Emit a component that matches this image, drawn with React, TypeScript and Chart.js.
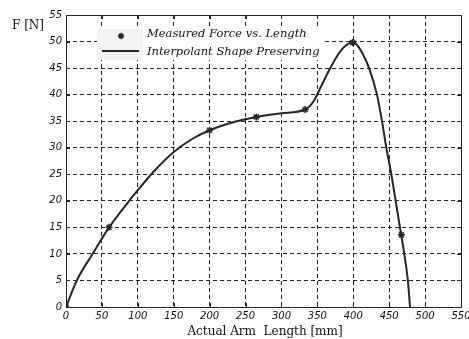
import React, { useEffect, useRef } from "react";
import { Chart, registerables } from "chart.js";

Chart.register(...registerables);

// Interpolated curve (shape preserving) samples
const curveX = [0, 15, 37, 60, 88, 100, 120, 150, 175, 200, 230, 265, 300, 333, 345, 355, 368, 380, 390, 399, 405, 412, 422, 433, 440, 446, 453, 459, 465, 471, 476, 479];
const curveY = [0, 5, 10, 15, 20, 22, 25.2, 29.2, 31.6, 33.3, 34.7, 35.8, 36.5, 37.2, 38.8, 41.5, 45, 47.8, 49.3, 49.8, 49.4, 48, 45, 40, 35, 30, 25, 20, 15, 10, 5, 0];

// Measured points
const measX = [0, 60, 200, 265, 333, 399, 467];
const measY = [0, 15, 33.3, 35.8, 37.2, 49.8, 13.6];

const xMin = 0, xMax = 550, xStep = 50;
const yMin = 0, yMax = 55, yStep = 5;

const legendLabels = ["Measured Force vs. Length", "Interpolant Shape Preserving"];
const xTitle = "Actual Arm  Length [mm]";
const yTitle = "F [N]";

const INK = "#262626";

const framePlugin = {
  id: "frame",
  afterDatasetsDraw(chart: any) {
    const { ctx, chartArea: a, scales } = chart;
    ctx.save();
    ctx.strokeStyle = INK;
    ctx.lineWidth = 1;
    ctx.setLineDash([]);
    ctx.strokeRect(Math.round(a.left) + 0.5, Math.round(a.top) + 0.5, Math.round(a.right - a.left), Math.round(a.bottom - a.top));
    ctx.beginPath();
    scales.x.ticks.forEach((t: any) => {
      const px = Math.round(scales.x.getPixelForValue(t.value)) + 0.5;
      ctx.moveTo(px, a.top); ctx.lineTo(px, a.top + 4);
      ctx.moveTo(px, a.bottom); ctx.lineTo(px, a.bottom - 4);
    });
    scales.y.ticks.forEach((t: any) => {
      const py = Math.round(scales.y.getPixelForValue(t.value)) + 0.5;
      ctx.moveTo(a.left, py); ctx.lineTo(a.left + 4, py);
      ctx.moveTo(a.right, py); ctx.lineTo(a.right - 4, py);
    });
    ctx.stroke();

    // legend
    const lx = 97, ly = 29, lw = 228, lh = 31;
    ctx.fillStyle = "#ffffff";
    ctx.fillRect(lx, ly, lw, lh);
    ctx.fillStyle = "#f3f3f3";
    ctx.fillRect(lx, ly, 46, lh);
    const sx = 121, sy = 36, r = 3.2;
    ctx.strokeStyle = INK;
    ctx.lineWidth = 1.5;
    ctx.beginPath();
    for (let i = 0; i < 4; i++) {
      const ang = (i * Math.PI) / 4;
      ctx.moveTo(sx - r * Math.cos(ang), sy - r * Math.sin(ang));
      ctx.lineTo(sx + r * Math.cos(ang), sy + r * Math.sin(ang));
    }
    ctx.stroke();
    ctx.lineWidth = 2;
    ctx.beginPath();
    ctx.moveTo(102, 51); ctx.lineTo(139, 51);
    ctx.stroke();
    ctx.fillStyle = "#111";
    ctx.font = "italic 11.5px 'DejaVu Serif'";
    ctx.textAlign = "left";
    ctx.textBaseline = "middle";
    ctx.fillText(legendLabels[0], 147, 34);
    ctx.fillText(legendLabels[1], 147, 52);

    ctx.font = "12px 'DejaVu Serif'";
    ctx.textAlign = "left";
    ctx.fillText(yTitle, 12, 26);
    ctx.textAlign = "center";
    ctx.fillText(xTitle, 265, 332);
    ctx.restore();
  },
};

export default function App() {
  const ref = useRef<HTMLCanvasElement>(null);
  useEffect(() => {
    if (!ref.current) return;
    const tickFont = { family: "'DejaVu Sans'", size: 10, style: "italic" as const };
    const chart = new Chart(ref.current, {
      type: "line",
      data: {
        datasets: [
          {
            label: legendLabels[1],
            data: curveX.map((x, i) => ({ x, y: curveY[i] })),
            borderColor: INK,
            borderWidth: 2,
            pointRadius: 0,
            cubicInterpolationMode: "monotone",
            fill: false,
          },
          {
            label: legendLabels[0],
            data: measX.map((x, i) => ({ x, y: measY[i] })),
            showLine: false,
            pointStyle: "star",
            pointRadius: 3.5,
            borderColor: INK,
            backgroundColor: INK,
            pointBorderWidth: 1.5,
          },
        ],
      },
      options: {
        responsive: false,
        animation: false,
        layout: { padding: { top: 15, right: 8, left: 0, bottom: 0 } },
        plugins: { legend: { display: false }, tooltip: { enabled: false } },
        scales: {
          x: {
            type: "linear",
            min: xMin,
            max: xMax,
            ticks: { stepSize: xStep, color: "#111", font: tickFont, padding: 3, maxRotation: 0, autoSkip: false },
            grid: { color: INK, lineWidth: 1, drawTicks: false },
            border: { display: false, dash: [4, 3] },
            afterFit(s: any) {
              s.height = 32;
              s.paddingLeft = 0; s.paddingRight = 0;
            },
          },
          y: {
            type: "linear",
            min: yMin,
            max: yMax,
            ticks: { stepSize: yStep, color: "#111", font: tickFont, padding: 4 },
            grid: { color: INK, lineWidth: 1, drawTicks: false },
            border: { display: false, dash: [4, 3] },
            afterFit(s: any) {
              s.width = 66;
              s.paddingTop = 0; s.paddingBottom = 0;
            },
          },
        },
      },
      plugins: [framePlugin],
    });
    return () => chart.destroy();
  }, []);
  return (
    <div style={{ position: "fixed", left: 0, top: 0, width: 469, height: 339, background: "#fff" }}>
      <canvas ref={ref} width={469} height={339} style={{ display: "block" }} />
    </div>
  );
}
